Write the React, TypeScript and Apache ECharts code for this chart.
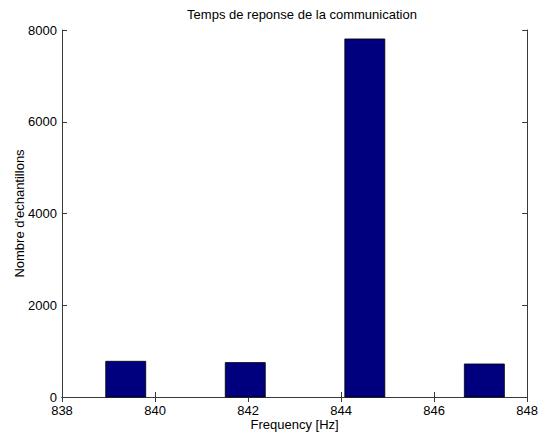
import React, { useEffect, useRef } from "react";
import * as echarts from "echarts";

const binStart = [838.94, 841.51, 844.08, 846.65];
const binEnd = [839.8, 842.37, 844.94, 847.51];
const counts = [778, 750, 7805, 720];

const titleText = "Temps de reponse de la communication";
const xName = "Frequency [Hz]";
const yName = "Nombre d'echantillons";

export default function App() {
  const ref = useRef<HTMLDivElement>(null);
  useEffect(() => {
    document.body.style.margin = "0";
    const chart = echarts.init(ref.current!, null, { renderer: "svg" });
    const font = "'Liberation Sans', Arial, Helvetica, sans-serif";
    const fs = 13;
    const axisLine = { show: true, lineStyle: { color: "#3a3a3a", width: 1 } };
    const tick = { show: true, inside: true, length: 5, lineStyle: { color: "#3a3a3a" } };
    const data = binStart.map((s, i) => [s, binEnd[i], counts[i]]);
    chart.setOption({
      animation: false,
      backgroundColor: "#ffffff",
      textStyle: { fontFamily: font },
      title: {
        text: titleText,
        left: 297,
        textAlign: "center",
        top: 3,
        textStyle: { fontFamily: font, fontSize: fs, fontWeight: "normal", color: "#000" },
      },
      grid: { left: 62, right: 9, top: 30, bottom: 36, containLabel: false },
      xAxis: [
        {
          type: "value",
          min: 838,
          max: 848,
          interval: 2,
          position: "bottom",
          axisLine,
          axisTick: tick,
          splitLine: { show: false },
          axisLabel: { color: "#000", fontSize: fs, fontFamily: font, margin: 7 },
          name: xName,
          nameLocation: "middle",
          nameGap: 21,
          nameMoveOverlap: false,
          nameTextStyle: { color: "#000", fontSize: fs, fontFamily: font },
        },
        {
          type: "value",
          min: 838,
          max: 848,
          interval: 2,
          position: "top",
          axisLine,
          axisTick: tick,
          splitLine: { show: false },
          axisLabel: { show: false },
        },
      ],
      yAxis: [
        {
          type: "value",
          min: 0,
          max: 8000,
          interval: 2000,
          position: "left",
          axisLine,
          axisTick: tick,
          splitLine: { show: false },
          axisLabel: {
            color: "#000",
            fontSize: fs,
            fontFamily: font,
            margin: 5,
            formatter: (v: number) => String(v),
          },
          name: yName,
          nameLocation: "middle",
          nameGap: 36,
          nameRotate: 90,
          nameMoveOverlap: false,
          nameTextStyle: { color: "#000", fontSize: fs, fontFamily: font },
        },
        {
          type: "value",
          min: 0,
          max: 8000,
          interval: 2000,
          position: "right",
          axisLine,
          axisTick: tick,
          splitLine: { show: false },
          axisLabel: { show: false },
        },
      ],
      series: [
        {
          type: "custom",
          xAxisIndex: 0,
          yAxisIndex: 0,
          data,
          encode: { x: [0, 1], y: 2 },
          renderItem: (params: any, api: any) => {
            const topLeft = api.coord([api.value(0), api.value(2)]);
            const bottomRight = api.coord([api.value(1), 0]);
            return {
              type: "rect",
              shape: {
                x: topLeft[0],
                y: topLeft[1],
                width: bottomRight[0] - topLeft[0],
                height: bottomRight[1] - topLeft[1],
              },
              style: { fill: "#00007f", stroke: "#000000", lineWidth: 0.8 },
            };
          },
        },
      ],
    });
    return () => chart.dispose();
  }, []);
  return <div ref={ref} style={{ width: 541, height: 436 }} />;
}
